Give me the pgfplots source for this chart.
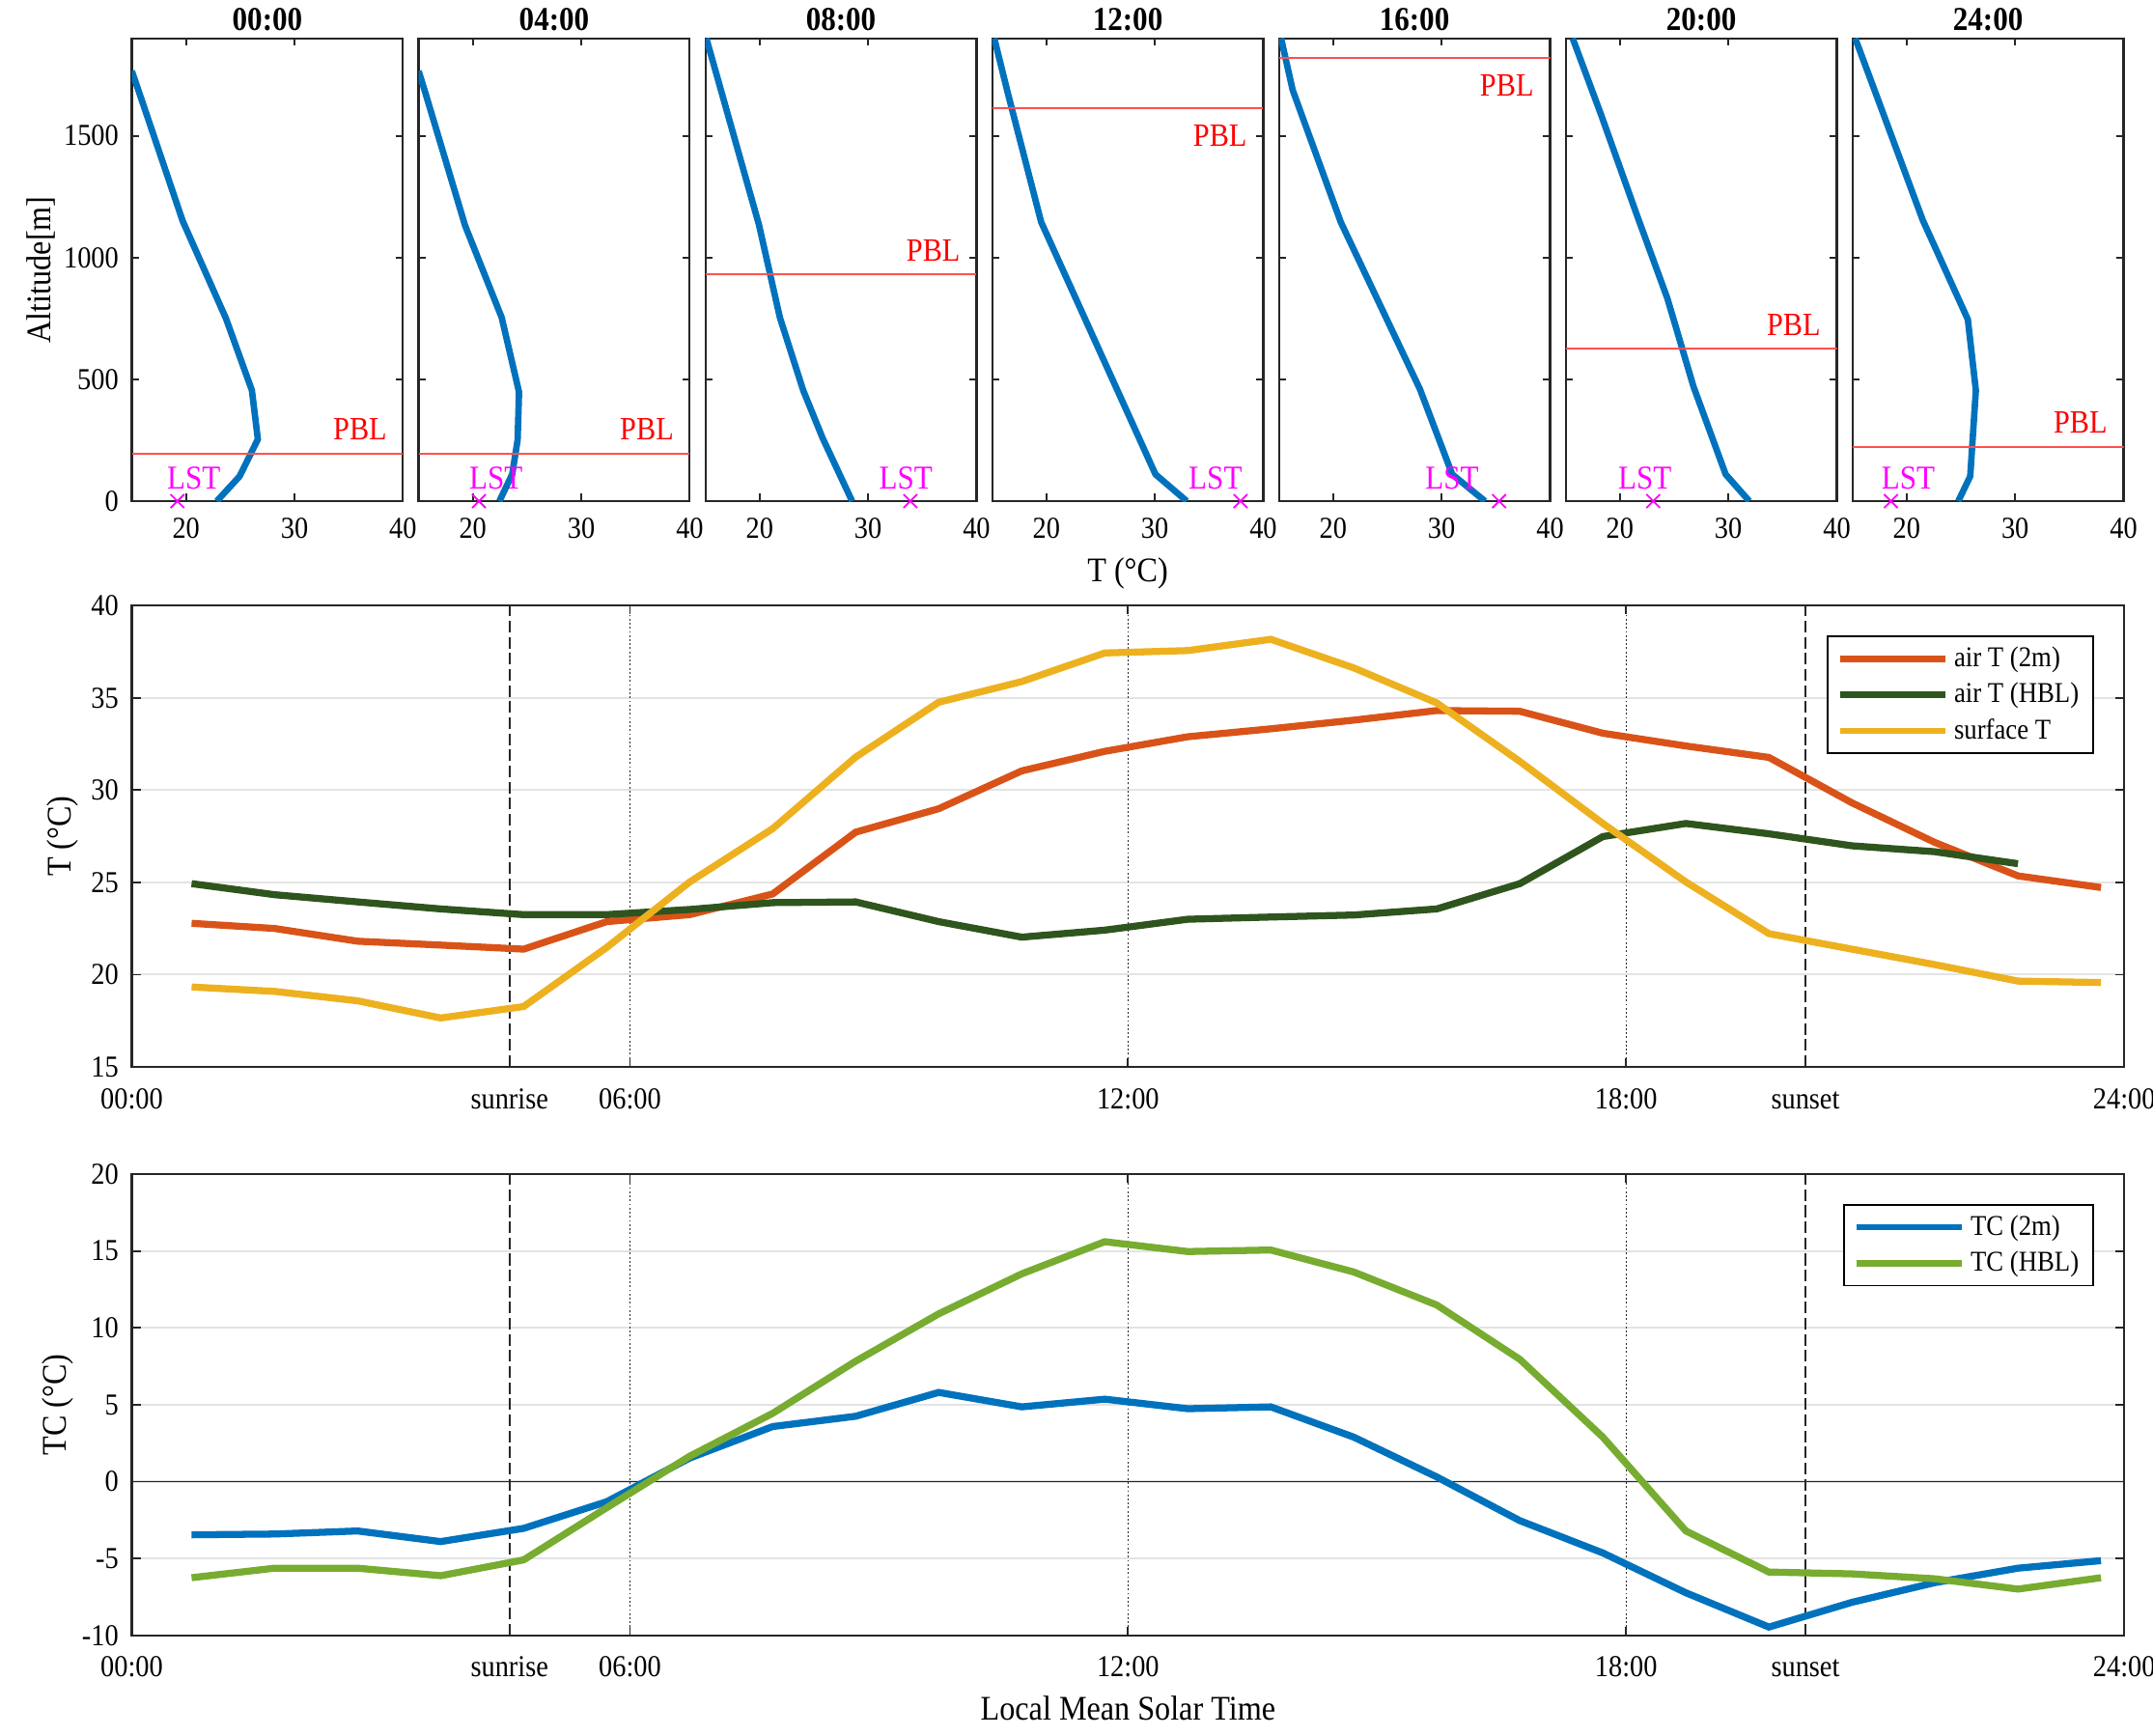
\documentclass[border=0pt]{standalone}
\usepackage{fontspec}
\setmainfont{Liberation Serif}[FakeStretch=0.9]
\usepackage{pgfplots}
\pgfplotsset{compat=1.18}
\definecolor{mblue}{RGB}{0,114,189}
\definecolor{morange}{RGB}{217,83,25}
\definecolor{myellow}{RGB}{237,177,32}
\definecolor{mdgreen}{RGB}{47,85,30}
\definecolor{mgreen}{RGB}{119,172,48}
\definecolor{axcol}{RGB}{38,38,38}
\definecolor{pblred}{RGB}{255,80,80}
\definecolor{mmag}{RGB}{255,0,255}
\tikzset{
  pbltxt/.style={anchor=east, inner sep=0pt, text=red, font=\fontsize{11.1}{13}\selectfont},
  lsttxt/.style={anchor=west, inner sep=0pt, text=mmag, font=\fontsize{11.4}{13}\selectfont}
}
\pgfplotsset{
  profline/.style={mblue, line width=2.2pt},
  pblline/.style={pblred, line width=0.7pt},
  lstmark/.style={mmag, only marks, mark=x, mark size=3.3pt, mark options={line width=0.6pt}},
  vdash/.style={black!85, line width=0.5pt, dash pattern=on 4pt off 1.5pt, forget plot},
  vdot/.style={black!85, line width=0.5pt, dash pattern=on 0.6pt off 0.8pt, forget plot},
  thick line/.style={line width=2.4pt},
  mstyle/.style={scale only axis, anchor=south west,
    axis line style={axcol, line width=0.7pt},
    tick style={axcol, line width=0.6pt}, tick align=inside,
    /pgf/number format/assume math mode=true,
    /pgf/number format/1000 sep={},
    scaled x ticks=false, scaled y ticks=false,
    tick label style={font=\fontsize{10.4}{12}\selectfont},
    label style={font=\fontsize{11.8}{14}\selectfont},
    xticklabel style={yshift=-2pt, text height=0.72em, text depth=0.2em},
    yticklabel style={xshift=-1pt}},
  prof/.style={mstyle, width=92.7pt, height=158.19pt,
    xmin=15, xmax=40, ymin=0, ymax=1900,
    xtick={20,30,40}, ytick={0,500,1000,1500},
    major tick length=2.5pt,
    xlabel style={yshift=2.3pt},
    title style={font=\bfseries\fontsize{11.4}{13}\selectfont, at={(0.5,1)}, anchor=south, yshift=-4.6pt, inner sep=1pt}},
  series/.style={mstyle, width=681.1pt, height=157.7pt, xmin=0, xmax=24,
    xtick={0,4.55,6,12,18,20.16,24},
    xticklabels={00:00,sunrise,06:00,12:00,18:00,sunset,24:00},
    xticklabel style={yshift=-1.5pt},
    xlabel style={yshift=2.2pt},
    major tick length=3pt, ymajorgrids, grid style={gray!22, line width=0.7pt},
    legend style={at={(0.985,0.935)}, anchor=north east, draw=black, line width=0.6pt,
      fill=white, font=\fontsize{9.8}{11}\selectfont, row sep=0pt,
      inner xsep=3pt, inner ysep=1.5pt, cells={anchor=west}},
    legend image code/.code={\draw[##1, line width=2.2pt] (0pt,0pt) -- (36pt,0pt);}}
}
\begin{document}
\begin{tikzpicture}
% ---------- profile panels ----------
\begin{axis}[prof, at={(45.06pt,421.99pt)}, title={00:00}, ylabel={Altitude[m]}, ylabel shift=-4pt]
\addplot[profline] coordinates {(22.84,0) (24.94,102) (26.62,254) (26.07,455) (23.68,750) (19.70,1149) (15.6,1688) (15.0,1766)};
\addplot[pblline] coordinates {(15,196) (40,196)};
\addplot[lstmark] coordinates {(19.2,0)};
\node[pbltxt] at (axis cs:38.57,296) {PBL};
\node[lsttxt] at (axis cs:18.2,94) {LST};
\end{axis}
\begin{axis}[prof, at={(143.09pt,421.99pt)}, title={04:00}, yticklabels={}]
\addplot[profline] coordinates {(22.45,0) (23.63,110) (24.13,251) (24.26,448) (22.66,754) (19.29,1131) (15.6,1680) (15.0,1766)};
\addplot[pblline] coordinates {(15,196) (40,196)};
\addplot[lstmark] coordinates {(20.56,0)};
\node[pbltxt] at (axis cs:38.57,296) {PBL};
\node[lsttxt] at (axis cs:19.63,94) {LST};
\end{axis}
\begin{axis}[prof, at={(241.12pt,421.99pt)}, title={08:00}, yticklabels={}]
\addplot[profline] coordinates {(28.53,0) (25.8,260) (24.02,455) (21.87,754) (19.94,1135) (15.09,1900)};
\addplot[pblline] coordinates {(15,930) (40,930)};
\addplot[lstmark] coordinates {(33.9,0)};
\node[pbltxt] at (axis cs:38.54,1030) {PBL};
\node[lsttxt] at (axis cs:30.98,94) {LST};
\end{axis}
\begin{axis}[prof, at={(339.15pt,421.99pt)}, title={12:00}, yticklabels={}, xlabel={T (°C)}]
\addplot[profline] coordinates {(32.94,0) (30.06,110) (19.52,1146) (16.42,1680) (15.2,1900)};
\addplot[pblline] coordinates {(15,1613) (40,1613)};
\addplot[lstmark] coordinates {(37.9,0)};
\node[pbltxt] at (axis cs:38.54,1500) {PBL};
\node[lsttxt] at (axis cs:33.07,94) {LST};
\end{axis}
\begin{axis}[prof, at={(437.18pt,421.99pt)}, title={16:00}, yticklabels={}]
\addplot[profline] coordinates {(34.0,0) (30.98,110) (28.0,460) (20.7,1146) (16.27,1688) (15.2,1900)};
\addplot[pblline] coordinates {(15,1818) (40,1818)};
\addplot[lstmark] coordinates {(35.3,0)};
\node[pbltxt] at (axis cs:38.54,1705) {PBL};
\node[lsttxt] at (axis cs:28.46,94) {LST};
\end{axis}
\begin{axis}[prof, at={(535.21pt,421.99pt)}, title={20:00}, yticklabels={}]
\addplot[profline] coordinates {(31.93,0) (29.75,110) (26.78,471) (24.38,832) (21.54,1178) (18.27,1586) (15.65,1900)};
\addplot[pblline] coordinates {(15,625) (40,625)};
\addplot[lstmark] coordinates {(23.07,0)};
\node[pbltxt] at (axis cs:38.54,725) {PBL};
\node[lsttxt] at (axis cs:19.8,94) {LST};
\end{axis}
\begin{axis}[prof, at={(633.24pt,421.99pt)}, title={24:00}, yticklabels={}]
\addplot[profline] coordinates {(24.76,0) (25.86,102) (26.38,455) (25.64,746) (21.48,1154) (17.1,1680) (15.26,1900)};
\addplot[pblline] coordinates {(15,223) (40,223)};
\addplot[lstmark] coordinates {(18.55,0)};
\node[pbltxt] at (axis cs:38.54,323) {PBL};
\node[lsttxt] at (axis cs:17.63,94) {LST};
\end{axis}
% ---------- temperature series ----------
\begin{axis}[series, at={(45.06pt,228.60pt)}, ymin=15, ymax=40, ytick={15,20,...,40}, ylabel={T (°C)}, ylabel shift=-2.5pt]
\addplot[vdash] coordinates {(4.55,15) (4.55,40)};
\addplot[vdash] coordinates {(20.16,15) (20.16,40)};
\addplot[vdot] coordinates {(6,15) (6,40)};
\addplot[vdot] coordinates {(12,15) (12,40)};
\addplot[vdot] coordinates {(18,15) (18,40)};
\addplot[morange, thick line] coordinates {(0.72,22.78) (1.72,22.50) (2.72,21.81) (3.72,21.60) (4.72,21.38) (5.72,22.87) (6.72,23.25) (7.72,24.37) (8.72,27.72) (9.72,28.99) (10.72,31.04) (11.72,32.10) (12.72,32.89) (13.72,33.32) (14.72,33.79) (15.72,34.31) (16.72,34.27) (17.72,33.08) (18.72,32.39) (19.72,31.77) (20.72,29.31) (21.72,27.16) (22.72,25.35) (23.72,24.72)};
\addlegendentry{air T (2m)}
\addplot[mdgreen, thick line] coordinates {(0.72,24.93) (1.72,24.33) (2.72,23.94) (3.72,23.56) (4.72,23.25) (5.72,23.25) (6.72,23.53) (7.72,23.90) (8.72,23.94) (9.72,22.87) (10.72,22.03) (11.72,22.41) (12.72,23.00) (13.72,23.12) (14.72,23.23) (15.72,23.56) (16.72,24.93) (17.72,27.48) (18.72,28.19) (19.72,27.63) (20.72,26.98) (21.72,26.66) (22.72,26.01)};
\addlegendentry{air T (HBL)}
\addplot[myellow, thick line] coordinates {(0.72,19.33) (1.72,19.09) (2.72,18.58) (3.72,17.65) (4.72,18.27) (5.72,21.47) (6.72,25.02) (7.72,27.91) (8.72,31.79) (9.72,34.76) (10.72,35.88) (11.72,37.43) (12.72,37.56) (13.72,38.17) (14.72,36.62) (15.72,34.72) (16.72,31.55) (17.72,28.19) (18.72,25.02) (19.72,22.22) (20.72,21.38) (21.72,20.54) (22.72,19.65) (23.72,19.57)};
\addlegendentry{surface T}
\end{axis}
% ---------- temperature contrast ----------
\begin{axis}[series, at={(45.06pt,34.27pt)}, ymin=-10, ymax=20, ytick={-10,-5,...,20}, ylabel={TC (°C)}, ylabel shift=-4pt, xlabel={Local Mean Solar Time}]
\addplot[vdash] coordinates {(4.55,-10) (4.55,20)};
\addplot[vdash] coordinates {(20.16,-10) (20.16,20)};
\addplot[vdot] coordinates {(6,-10) (6,20)};
\addplot[vdot] coordinates {(12,-10) (12,20)};
\addplot[vdot] coordinates {(18,-10) (18,20)};
\addplot[axcol, line width=0.6pt, forget plot] coordinates {(0,0) (24,0)};
\addplot[mblue, thick line] coordinates {(0.72,-3.46) (1.72,-3.41) (2.72,-3.21) (3.72,-3.90) (4.72,-3.04) (5.72,-1.31) (6.72,1.53) (7.72,3.58) (8.72,4.25) (9.72,5.80) (10.72,4.86) (11.72,5.36) (12.72,4.74) (13.72,4.86) (14.72,2.89) (15.72,0.30) (16.72,-2.54) (17.72,-4.64) (18.72,-7.23) (19.72,-9.46) (20.72,-7.85) (21.72,-6.57) (22.72,-5.63) (23.72,-5.14)};
\addlegendentry{TC (2m)}
\addplot[mgreen, thick line] coordinates {(0.72,-6.25) (1.72,-5.63) (2.72,-5.63) (3.72,-6.12) (4.72,-5.09) (5.72,-1.70) (6.72,1.65) (7.72,4.44) (8.72,7.83) (9.72,10.91) (10.72,13.51) (11.72,15.60) (12.72,14.96) (13.72,15.06) (14.72,13.63) (15.72,11.48) (16.72,7.95) (17.72,2.89) (18.72,-3.21) (19.72,-5.88) (20.72,-6.00) (21.72,-6.32) (22.72,-6.99) (23.72,-6.25)};
\addlegendentry{TC (HBL)}
\end{axis}
\pgfresetboundingbox
\useasboundingbox (0,0) rectangle (736pt,593.3pt);
\end{tikzpicture}
\end{document}
